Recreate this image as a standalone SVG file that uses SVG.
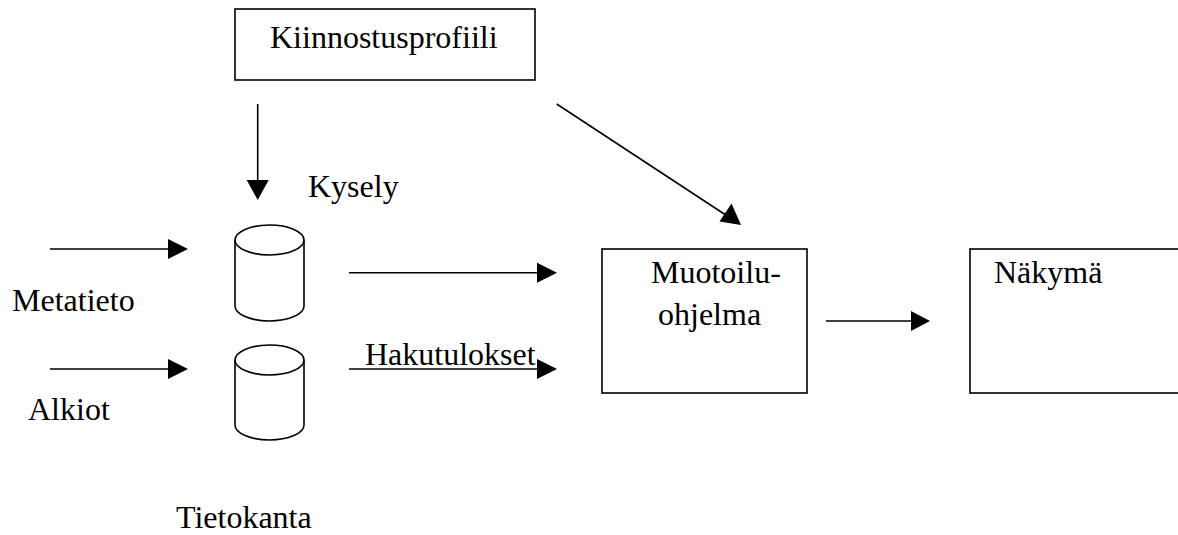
<svg xmlns="http://www.w3.org/2000/svg" width="1178" height="535" viewBox="0 0 1178 535">
  <style>
    .box { fill: #fff; stroke: #000; stroke-width: 1.6; }
    .cyl { fill: #fff; stroke: #000; stroke-width: 1.6; }
    .lbl { font-family: "Liberation Serif", "Times New Roman", serif; font-size: 32px; fill: #000; }
    .wire { stroke: #000; stroke-width: 1.6; fill: none; }
    .head { fill: #000; stroke: none; }
  </style>
  <rect width="1178" height="535" fill="#fff"/>

  <g id="kiinnostusprofiili">
    <rect class="box" x="235" y="9" width="300" height="71"/>
    <text class="lbl" x="270" y="48">Kiinnostusprofiili</text>
  </g>

  <g id="kysely">
    <path class="cyl" d="M235,240 A34.5,15 0 0 1 304,240 L304,306 A34.5,15 0 0 1 235,306 Z"/>
    <path class="wire" d="M235,240 A34.5,15 0 0 0 304,240"/>
    <text class="lbl" x="308" y="197">Kysely</text>
  </g>

  <g id="tietokanta">
    <path class="cyl" d="M235,360 A34.5,15 0 0 1 304,360 L304,425 A34.5,15 0 0 1 235,425 Z"/>
    <path class="wire" d="M235,360 A34.5,15 0 0 0 304,360"/>
    <text class="lbl" x="176" y="528">Tietokanta</text>
  </g>

  <g id="metatieto">
    <text class="lbl" x="12" y="311">Metatieto</text>
  </g>

  <g id="alkiot">
    <text class="lbl" x="28" y="420">Alkiot</text>
  </g>

  <g id="muotoiluohjelma">
    <rect class="box" x="602" y="249" width="205" height="144"/>
    <text class="lbl" x="651" y="283">Muotoilu-</text>
    <text class="lbl" x="658" y="325">ohjelma</text>
  </g>

  <g id="nakyma">
    <rect class="box" x="970" y="249" width="230" height="144"/>
    <text class="lbl" x="994" y="283">Näkymä</text>
  </g>

  <g id="connectors">
    <!-- profile to query -->
    <line class="wire" x1="257.7" y1="104" x2="257.7" y2="182"/>
    <polygon class="head" points="246.7,180 268.7,180 257.7,200"/>
    <!-- profile to formatter -->
    <line class="wire" x1="556.7" y1="104" x2="725" y2="214.5"/>
    <polygon class="head" points="741,225 719.5,221.5 731.5,203.5"/>
    <!-- inputs -->
    <line class="wire" x1="50" y1="249" x2="170" y2="249"/>
    <polygon class="head" points="168,239 168,259 188,249"/>
    <line class="wire" x1="50" y1="369" x2="170" y2="369"/>
    <polygon class="head" points="168,359 168,379 188,369"/>
    <!-- query and results to formatter -->
    <line class="wire" x1="349" y1="272.7" x2="539" y2="272.7"/>
    <polygon class="head" points="537,262.7 537,282.7 557,272.7"/>
    <line class="wire" x1="349" y1="369" x2="539" y2="369"/>
    <polygon class="head" points="537,359 537,379 557,369"/>
    <text class="lbl" x="365" y="365">Hakutulokset</text>
    <!-- formatter to view -->
    <line class="wire" x1="826" y1="321" x2="913" y2="321"/>
    <polygon class="head" points="911,311 911,331 930,321"/>
  </g>
</svg>
